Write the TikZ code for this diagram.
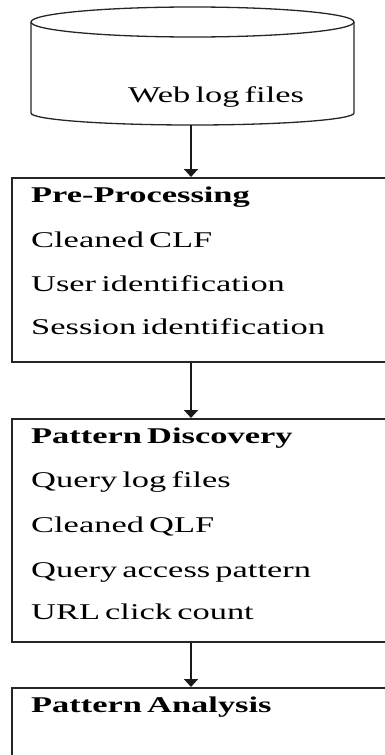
\documentclass[tikz,border=0pt]{standalone}
\usepackage{fontspec}
\setmainfont{Liberation Serif}[FakeStretch=1.53, WordSpace=0.6]
\usetikzlibrary{arrows.meta}
\tikzset{
  stage/.style={draw=black!85, line width=1.7pt, rectangle, minimum width=400pt, anchor=north west, inner sep=0pt},
  flow/.style={draw=black!90, line width=1.7pt, -{Triangle[width=14pt,length=8pt]}},
  item/.style={anchor=base west, inner sep=0pt, font=\fontsize{22.5}{24}\selectfont},
  head/.style={item, font=\fontsize{22.5}{24}\selectfont\bfseries},
  drum/.style={draw=black!85, line width=1.3pt}
}
\begin{document}
\begin{tikzpicture}[x=1pt, y=-1pt]
  \useasboundingbox (0,0) rectangle (385,755);
  \clip (0,0) rectangle (385,755);

  % log-file store (cylinder)
  \draw[drum] (31,22) -- (31,113) arc[start angle=180, end angle=360, x radius=161.5pt, y radius=12pt] -- (354,22);
  \draw[drum] (192.5,22) ellipse [x radius=161.5pt, y radius=15pt];
  \coordinate (store) at (191,125);
  \node[item] (weblog) at (128,102) {Web log files};

  % processing stages
  \node[stage, minimum height=184pt] (pre) at (11,177) {};
  \node[stage, minimum height=223pt] (disc) at (11,418) {};
  \node[stage, minimum height=100pt] (ana) at (11,687) {};

  \node[head] (preh) at (31,202) {Pre-Processing};
  \node[item] (pre1) at (31,247) {Cleaned CLF};
  \node[item] (pre2) at (31,291) {User identification};
  \node[item] (pre3) at (31,334) {Session identification};

  \node[head] (disch) at (31,443) {Pattern Discovery};
  \node[item] (disc1) at (31,487) {Query log files};
  \node[item] (disc2) at (31,532) {Cleaned QLF};
  \node[item] (disc3) at (31,577) {Query access pattern};
  \node[item] (disc4) at (31,619) {URL click count};

  \node[head] (anah) at (31,712) {Pattern Analysis};

  % connectors
  \draw[flow] (store) -- (store |- pre.north);
  \coordinate (preout) at (store |- pre.south);
  \draw[flow] (preout) -- (preout |- disc.north);
  \coordinate (discout) at (store |- disc.south);
  \draw[flow] (discout) -- (discout |- ana.north);
\end{tikzpicture}
\end{document}
